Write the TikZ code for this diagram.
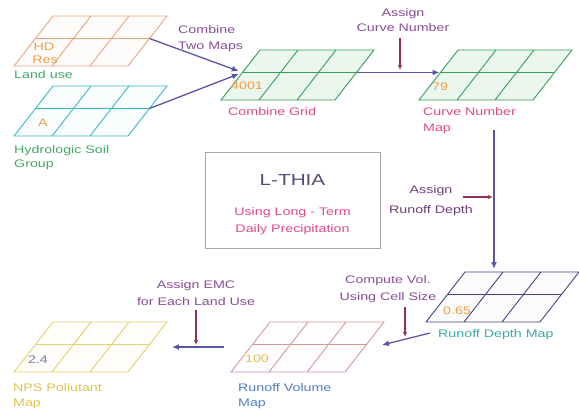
\documentclass[tikz,border=0pt]{standalone}
\usepackage{fontspec}
\setmainfont{Liberation Sans}[FakeStretch=1.3]
\usetikzlibrary{arrows.meta}

\definecolor{landcol}{HTML}{EAA578}
\definecolor{soilcol}{HTML}{3DB6CC}
\definecolor{gridcol}{HTML}{35A055}
\definecolor{depthcol}{HTML}{454585}
\definecolor{volcol}{HTML}{D49A9A}
\definecolor{npscol}{HTML}{E4D070}
\definecolor{arrowblue}{HTML}{5656A6}
\definecolor{tagred}{HTML}{94305E}
\definecolor{actcol}{HTML}{8A4C9A}
\definecolor{pinkcol}{HTML}{E04A88}
\definecolor{greencol}{HTML}{45A865}
\definecolor{tealcol}{HTML}{3CA8A6}
\definecolor{bluecol}{HTML}{4E7EC6}
\definecolor{yellcol}{HTML}{DEC24E}
\definecolor{valcol}{HTML}{EE9E45}
\definecolor{titlecol}{HTML}{4E4E7A}

% one map: name, top-left x, top-left y, colour, fill strength
\newcommand{\mapgrid}[5]{%
\begin{scope}[shift={(#2,#3)}]
\fill[#4!#5] (0,0) -- (114,0) -- (75,50) -- (-39,50) -- cycle;
\draw[#4, line width=0.9pt] (0,0) -- (114,0) -- (75,50) -- (-39,50) -- cycle
  (38,0) -- (-1,50) (76,0) -- (37,50) (-17.5,22.5) -- (96.5,22.5);
\coordinate (#1-ml) at (-17.5,22.5);
\coordinate (#1-mr) at (96.5,22.5);
\end{scope}}

\tikzset{
  txt/.style={inner sep=0pt, font=\fontsize{11}{14}\selectfont},
  valtxt/.style={txt, text=valcol},
  acttxt/.style={txt, text=actcol, align=center},
  mainarrow/.style={draw=arrowblue, line width=1.3pt, -{Latex[length=7pt,width=6pt]}},
  tagarrow/.style={draw=tagred, line width=1.5pt, -{Latex[length=5pt,width=4.5pt]}}
}

\begin{document}
\begin{tikzpicture}[x=1bp, y=-1bp]
\useasboundingbox (0,0) rectangle (579,409);

% maps
\mapgrid{land}{53}{16}{landcol}{3}
\mapgrid{soil}{53}{86}{soilcol}{3}
\mapgrid{comb}{260}{50}{gridcol}{10}
\mapgrid{curve}{458}{50}{gridcol}{10}
\mapgrid{depth}{465}{272}{depthcol}{2}
\mapgrid{vol}{270}{322}{volcol}{3}
\mapgrid{nps}{53}{322}{npscol}{4}

% cell values
\node[valtxt] (hd) at (44,47) {HD};
\node[valtxt] (res) at (45,60) {Res};
\node[valtxt] (soilval) at (43,123) {A};
\node[valtxt] (combval) at (247,86) {4001};
\node[valtxt] (curveval) at (440,87) {79};
\node[valtxt] (depthval) at (457,311) {0.65};
\node[txt, text=yellcol] (volval) at (257,359) {100};
\node[txt, text=depthcol!70] (npsval) at (38,360) {2.4};

% map names
\node[txt, text=greencol, anchor=west] (landlbl) at (14,75) {Land use};
\node[txt, text=greencol, anchor=north west, align=left] (soillbl) at (14,145.5) {Hydrologic Soil\\Group};
\node[txt, text=pinkcol, anchor=west] (comblbl) at (228,112) {Combine Grid};
\node[txt, text=pinkcol, anchor=north west, align=left, font=\fontsize{11}{16}\selectfont] (curvelbl) at (423,107.5) {Curve Number\\Map};
\node[txt, text=tealcol, anchor=west] (depthlbl) at (438,335) {Runoff Depth Map};
\node[txt, text=bluecol, anchor=north west, align=left, font=\fontsize{11}{15}\selectfont] (vollbl) at (238,383.5) {Runoff Volume\\Map};
\node[txt, text=yellcol, anchor=north west, align=left, font=\fontsize{11}{15}\selectfont] (npslbl) at (13,383.5) {NPS Pollutant\\Map};

% steps
\node[acttxt, anchor=north west, align=left, font=\fontsize{11}{16}\selectfont] (combine) at (178,25) {Combine\\Two Maps};
\node[acttxt, anchor=north, font=\fontsize{11}{15}\selectfont] (assigncn) at (403,8.5) {Assign\\Curve Number};
\node[acttxt, text=actcol!80!black, anchor=north, font=\fontsize{11}{20}\selectfont] (assignrd) at (431,185.5) {Assign\\Runoff Depth};
\node[acttxt, anchor=north, font=\fontsize{11}{17}\selectfont] (compute) at (388,275.5) {Compute Vol.\\Using Cell Size};
\node[acttxt, anchor=north, font=\fontsize{11}{17}\selectfont] (assignemc) at (196,280.5) {Assign EMC\\for Each Land Use};

% title box
\node[draw=black!35, line width=0.9pt, minimum width=175bp, minimum height=96bp, inner sep=0pt] (model) at (292.5,200) {};
\node[txt, text=titlecol, font=\fontsize{16}{18}\selectfont] (lthia) at (292.5,180) {L-THIA};
\node[txt, text=pinkcol] (longterm) at (292.5,213) {Using Long - Term};
\node[txt, text=pinkcol] (precip) at (292.5,230) {Daily Precipitation};

% connector ends
\coordinate (curve-out) at (494,130);
\coordinate (depth-in) at (494,269);
\coordinate (depth-out) at (430,333);
\coordinate (vol-in) at (382,345);
\coordinate (vol-out) at (224,347);
\coordinate (nps-in) at (172,347);
\coordinate (cn-top) at (400,38);
\coordinate (cn-hit) at (400,70);
\coordinate (rd-left) at (463,197);
\coordinate (rd-hit) at (493,197);
\coordinate (cv-top) at (405,307);
\coordinate (cv-hit) at (405,337);
\coordinate (emc-top) at (196,310);
\coordinate (emc-hit) at (196,345);

% flow
\draw[mainarrow, shorten >=4bp] (land-mr) -- (comb-ml);
\draw[mainarrow, shorten >=4bp] (soil-mr) -- (comb-ml);
\draw[mainarrow, shorten >=1bp] (comb-mr) -- (curve-ml);
\draw[mainarrow] (curve-out) -- (depth-in);
\draw[mainarrow] (depth-out) -- (vol-in);
\draw[mainarrow] (vol-out) -- (nps-in);

\draw[tagarrow] (cn-top) -- (cn-hit);
\draw[tagarrow] (rd-left) -- (rd-hit);
\draw[tagarrow] (cv-top) -- (cv-hit);
\draw[tagarrow] (emc-top) -- (emc-hit);

\end{tikzpicture}
\end{document}
